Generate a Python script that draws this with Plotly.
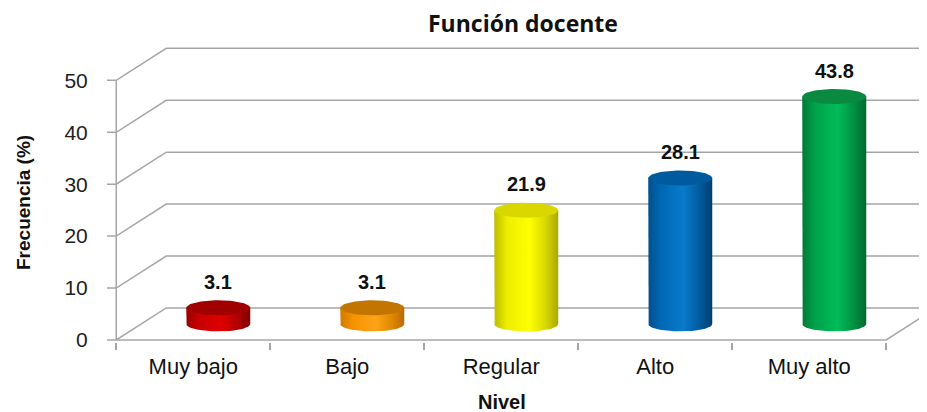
import numpy as np
import plotly.graph_objects as go

# ---------------- data ----------------
categories = ["Muy bajo", "Bajo", "Regular", "Alto", "Muy alto"]
values = [3.1, 3.1, 21.9, 28.1, 43.8]
value_labels = ["3.1", "3.1", "21.9", "28.1", "43.8"]
y_ticks = [0, 10, 20, 30, 40, 50]
title_text = "Función docente"
y_title = "Frecuencia (%)"
x_title = "Nivel"

# ---------------- styles ----------------
body_scales = [
    ["#9A0000", "#C80000", "#E00000", "#B00000", "#7E0000"],
    ["#D07A00", "#F59200", "#FFA31A", "#E08A00", "#B86A00"],
    ["#BDBD00", "#EDED00", "#FFFF00", "#D8D800", "#A8A800"],
    ["#00508E", "#0068B4", "#0A7ACB", "#005C9E", "#003E6E"],
    ["#007A36", "#00A24A", "#00BC58", "#009244", "#006A2E"],
]
cap_colors = ["#A00000", "#C27600", "#D8D800", "#005A9E", "#0A8A40"]
grid_color = "#A6A6A6"

# page has an 8px body margin -> figure sits at (8, 8) in the window
OFF = 8
W, H = 927 - OFF, 412 - OFF
ML, MR, MT, MB = 107 - OFF, 0, 44 - OFF, 70
PW, PH = W - ML - MR, H - MT - MB
UX = 154.0                      # px per category
X0 = -0.56
XMAX = X0 + PW / UX
Y_LO, Y_HI = -0.4, 57.0
UY = PH / (Y_HI - Y_LO)
DX = 50 / UX                    # depth offset (x units)
DY = 32 / UY                    # depth offset (y units)
HALF_W = 32 / UX
ELL_B = 7.5 / UY


def px_x(wx):
    return (wx - OFF - ML) / PW


def px_y(wy):
    return ((H - MB) - (wy - OFF)) / PH


fig = go.Figure()

# ---------------- perspective grid / walls ----------------
gx, gy = [], []
for v in y_ticks:
    gx += [X0, -0.5, -0.5 + DX, XMAX + 0.2, None]
    gy += [v, v, v + DY, v + DY, None]
n = len(categories)
gx += [-0.5, n - 0.5, n - 0.5 + DX, None, -0.5, -0.5, None]
gy += [0, 0, DY, None, 0, y_ticks[-1], None]
fig.add_trace(go.Scatter(x=gx, y=gy, mode="lines",
                         line=dict(color=grid_color, width=1.5),
                         hoverinfo="skip", showlegend=False))

# ---------------- cylinders ----------------
t_low = np.linspace(np.pi, 2 * np.pi, 40)
t_all = np.linspace(0, 2 * np.pi, 80)
for i, v in enumerate(values):
    c = i + DX / 2
    base = DY / 2
    top = base + v
    bx = [c - HALF_W] + list(c + HALF_W * np.cos(t_low)) + [c + HALF_W, c - HALF_W]
    by = [top] + list(base + ELL_B * np.sin(t_low)) + [top, top]
    sc = body_scales[i]
    cs = [[0, sc[0]], [0.2, sc[1]], [0.55, sc[2]], [0.8, sc[3]], [1, sc[4]]]
    fig.add_trace(go.Scatter(x=bx, y=by, mode="lines", fill="toself",
                             line=dict(width=0, color=sc[2]),
                             fillgradient=dict(type="horizontal", colorscale=cs),
                             hoverinfo="skip", showlegend=False))
    fig.add_trace(go.Scatter(x=list(c + HALF_W * np.cos(t_all)),
                             y=list(top + ELL_B * np.sin(t_all)),
                             mode="lines", fill="toself",
                             fillcolor=cap_colors[i],
                             line=dict(width=0, color=cap_colors[i]),
                             name=categories[i],
                             hovertemplate=f"{categories[i]}: {v}<extra></extra>",
                             showlegend=False))
    fig.add_annotation(x=c, y=top, xref="x", yref="y", text=f"<b>{value_labels[i]}</b>",
                       showarrow=False, yshift=26,
                       font=dict(family="Liberation Sans, Arial", size=20, color="#111"))

# ---------------- titles ----------------
fig.add_annotation(text=f"<b>{title_text}</b>", xref="paper", yref="paper",
                   x=px_x(523), y=px_y(23), showarrow=False,
                   xanchor="center", yanchor="middle",
                   font=dict(family="Open Sans, Lato, sans-serif", size=23, color="#111"))
fig.add_annotation(text=f"<b>{y_title}</b>", xref="paper", yref="paper",
                   x=px_x(23), y=px_y(203),
                   textangle=-90, showarrow=False, xanchor="center", yanchor="middle",
                   font=dict(family="Liberation Sans, Arial", size=19, color="#111"))
fig.add_annotation(text=f"<b>{x_title}</b>", xref="paper", yref="paper",
                   x=px_x(502), y=px_y(402), showarrow=False,
                   xanchor="center", yanchor="middle",
                   font=dict(family="Liberation Sans, Arial", size=20, color="#111"))

fig.update_layout(
    width=W, height=H,
    margin=dict(l=ML, r=MR, t=MT, b=MB),
    paper_bgcolor="white", plot_bgcolor="white",
    showlegend=False,
    xaxis=dict(range=[X0, XMAX], tickmode="array", tickvals=list(range(n)),
               ticktext=categories, showgrid=False, zeroline=False, showline=False,
               ticks="outside", ticklen=5, tickcolor="rgba(0,0,0,0)",
               tickfont=dict(family="Liberation Sans, Arial", size=22, color="#111"),
               minor=dict(tickmode="array", tickvals=[k - 0.5 for k in range(n + 1)],
                          ticks="outside", ticklen=7, tickcolor=grid_color, tickwidth=1.5,
                          showgrid=False),
               fixedrange=True),
    yaxis=dict(range=[Y_LO, Y_HI], tickmode="array", tickvals=y_ticks,
               ticktext=[str(v) for v in y_ticks],
               showgrid=False, zeroline=False, showline=False,
               ticks="outside", ticklen=14, tickcolor="rgba(0,0,0,0)",
               tickfont=dict(family="Liberation Sans, Arial", size=21, color="#222"),
               fixedrange=True),
)

fig.write_html("out.html")
